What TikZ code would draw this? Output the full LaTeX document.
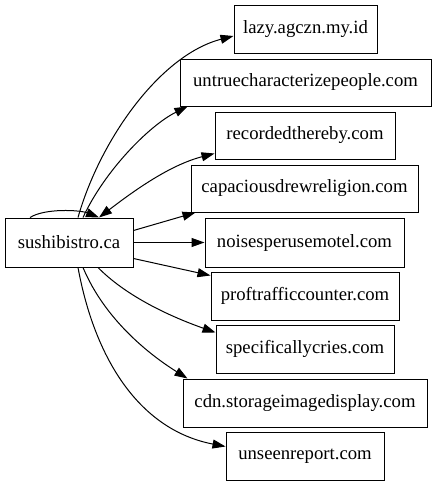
\documentclass[tikz,border=0pt]{standalone}
\usepackage{fontspec}
\setmainfont{Liberation Serif}
\usetikzlibrary{arrows.meta}
\begin{document}
\begin{tikzpicture}[x=1pt,y=-1pt,
  box/.style={draw, line width=1pt, inner sep=0pt, font=\fontsize{18.7}{22}\selectfont, minimum height=48pt},
  edge/.style={line width=1pt, -{Triangle[length=13pt,width=9pt]}}]
\useasboundingbox (0,0) rectangle (436,485);
\node[box, minimum width=128pt, minimum height=49pt] (s) at (69,242.5) {sushibistro.ca};
\node[box, minimum width=143pt] (lazy) at (305.5,29) {lazy.agczn.my.id};
\node[box, minimum width=251pt, minimum height=47pt] (untrue) at (305.5,82.5) {untruecharacterizepeople.com};
\node[box, minimum width=180pt, minimum height=47pt] (rec) at (305,135.5) {recordedthereby.com};
\node[box, minimum width=227pt, minimum height=47pt] (cap) at (304.5,188.5) {capaciousdrewreligion.com};
\node[box, minimum width=199pt, minimum height=49pt] (noise) at (304.5,242.5) {noisesperusemotel.com};
\node[box, minimum width=188pt] (prof) at (305,296) {proftrafficcounter.com};
\node[box, minimum width=178pt] (spec) at (305,349) {specificallycries.com};
\node[box, minimum width=244pt] (cdn) at (305,403) {cdn.storageimagedisplay.com};
\node[box, minimum width=158pt] (unseen) at (305,456) {unseenreport.com};

\coordinate (sTopA) at ([xshift=9pt]s.north);
\coordinate (sTopB) at ([xshift=14pt]s.north);
\coordinate (sTopC) at ([xshift=30pt]s.north);
\coordinate (sLoop) at ([xshift=-39pt]s.north);
\coordinate (sBotA) at ([xshift=9pt]s.south);
\coordinate (sBotB) at ([xshift=14pt]s.south);
\coordinate (sBotC) at ([xshift=29pt]s.south);

\draw[edge] (sTopA) .. controls (100,140) and (160,55) .. ([yshift=-7pt]lazy.west);
\draw[edge] (sTopB) .. controls (105,170) and (150,125) .. ([xshift=8pt]untrue.south west);
\draw[edge, {Triangle[length=13pt,width=9pt]}-{Triangle[length=13pt,width=9pt]}] (sTopC) .. controls (135,190) and (170,165) .. ([yshift=6pt]rec.south west);
\draw[edge] (sLoop) .. controls (45,208) and (80,210) .. (sTopC);
\draw[edge] ([yshift=12pt]s.east) -- ([xshift=5pt]cap.south west);
\draw[edge] (s.east) -- (noise.west);
\draw[edge] ([yshift=9pt]s.south east) -- ([yshift=-4pt]prof.north west);
\draw[edge] (sBotC) .. controls (130,300) and (180,320) .. ([yshift=-8pt]spec.north west);
\draw[edge] (sBotB) .. controls (105,320) and (150,355) .. ([xshift=5pt]cdn.north west);
\draw[edge] (sBotA) .. controls (95,360) and (140,430) .. ([yshift=-15pt]unseen.north west);
\end{tikzpicture}
\end{document}
